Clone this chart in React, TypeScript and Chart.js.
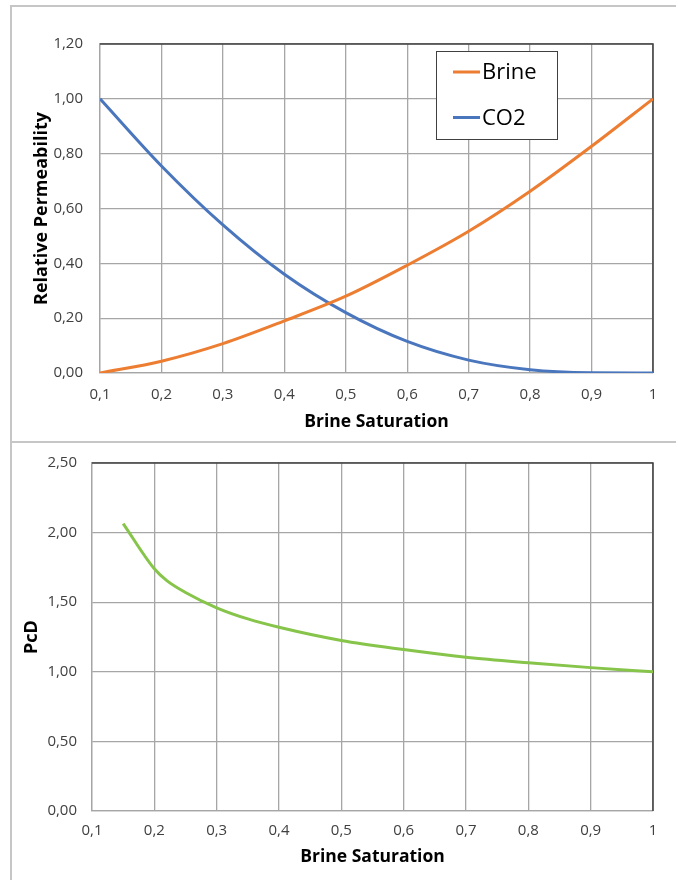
import React, { useEffect, useRef } from "react";
import { Chart, registerables } from "chart.js";

Chart.register(...registerables);

// ---- data ----
const krSaturation = [0.1, 0.2, 0.3, 0.4, 0.5, 0.6, 0.7, 0.8, 0.9, 1.0];
const brineKr = [0.0, 0.043, 0.107, 0.19, 0.28, 0.393, 0.517, 0.663, 0.827, 1.0];
const co2Kr = [1.0, 0.755, 0.54, 0.36, 0.22, 0.115, 0.047, 0.012, 0.001, 0.0];
const seriesLabels = ["Brine", "CO2"];

const pcSaturation = [0.15, 0.2, 0.22, 0.25, 0.3, 0.35, 0.4, 0.5, 0.6, 0.7, 0.8, 0.9, 1.0];
const pcD = [2.065, 1.74, 1.655, 1.57, 1.46, 1.38, 1.32, 1.225, 1.16, 1.105, 1.065, 1.03, 1.0];

const xTickStep = 0.1;
const krTickStep = 0.2;
const pcTickStep = 0.5;

const FONT = "'Open Sans', 'DejaVu Sans', sans-serif";
const GRID = "#a6a6a6";
const DARK = "#404040";
const ORANGE = "#ED7D31";
const BLUE = "#4A76BE";
const GREEN = "#86C44A";

const fmtY = (v: number) => Number(v).toFixed(2).replace(".", ",");
const fmtX = (v: number) => {
  const r = Math.round(Number(v) * 10) / 10;
  return String(r).replace(".", ",");
};

const plotBorder = {
  id: "plotBorder",
  beforeDatasetsDraw(chart: any) {
    const { ctx, chartArea } = chart;
    ctx.save();
    ctx.strokeStyle = DARK;
    ctx.lineWidth = 1.5;
    ctx.beginPath();
    ctx.moveTo(chartArea.left, chartArea.top);
    ctx.lineTo(chartArea.right, chartArea.top);
    ctx.lineTo(chartArea.right, chartArea.bottom);
    ctx.stroke();
    ctx.restore();
  },
};

const boxLegend = {
  id: "boxLegend",
  afterDraw(chart: any, _args: any, opts: any) {
    if (!opts || !opts.display) return;
    const { ctx } = chart;
    const { x, y, w, h, rowGap } = opts;
    ctx.save();
    ctx.fillStyle = "#ffffff";
    ctx.fillRect(x, y, w, h);
    ctx.strokeStyle = DARK;
    ctx.lineWidth = 1;
    ctx.strokeRect(x + 0.5, y + 0.5, w, h);
    ctx.font = `22px ${FONT}`;
    ctx.textBaseline = "middle";
    chart.data.datasets.forEach((ds: any, i: number) => {
      const cy = y + 21 + i * rowGap;
      ctx.strokeStyle = ds.borderColor;
      ctx.lineWidth = 3;
      ctx.beginPath();
      ctx.moveTo(x + 17, cy);
      ctx.lineTo(x + 44, cy);
      ctx.stroke();
      ctx.fillStyle = "#000";
      ctx.fillText(ds.label, x + 46, cy + 1);
    });
    ctx.restore();
  },
};

function xScale(tickPad: number, titlePad: number, height: number) {
  return {
    type: "linear",
    min: 0.1,
    max: 1,
    ticks: {
      stepSize: xTickStep,
      color: DARK,
      font: { size: 15, family: FONT },
      padding: tickPad,
      callback: (v: any) => fmtX(v),
      maxRotation: 0,
    },
    grid: { color: GRID, lineWidth: 1.3, drawTicks: false },
    border: { color: GRID, width: 1.3 },
    title: {
      display: true,
      text: "Brine Saturation",
      color: "#000",
      font: { size: 17.5, weight: "bold", family: FONT },
      padding: { top: 0, bottom: titlePad },
    },
    afterFit: (s: any) => {
      s.height = height;
      s.paddingLeft = 0;
      s.paddingRight = 0;
    },
  };
}

function yScale(max: number, step: number, title: string, tickPad: number, titlePad: number, width: number) {
  return {
    type: "linear",
    min: 0,
    max,
    ticks: {
      stepSize: step,
      color: DARK,
      font: { size: 15, family: FONT },
      padding: tickPad,
      callback: (v: any) => fmtY(v),
    },
    grid: { color: GRID, lineWidth: 1.3, drawTicks: false },
    border: { color: GRID, width: 1.3 },
    title: {
      display: true,
      text: title,
      color: "#000",
      font: { size: 18, weight: "bold", family: FONT },
      padding: { top: titlePad, bottom: 0 },
    },
    afterFit: (s: any) => {
      s.width = width;
      s.paddingTop = 0;
      s.paddingBottom = 0;
    },
  };
}

function KrChart() {
  const ref = useRef<HTMLCanvasElement>(null);
  useEffect(() => {
    if (!ref.current) return;
    const chart = new Chart(ref.current, {
      type: "line",
      data: {
        datasets: [
          {
            label: seriesLabels[0],
            data: krSaturation.map((x, i) => ({ x, y: brineKr[i] })),
            borderColor: ORANGE,
            borderWidth: 3,
            pointRadius: 0,
            cubicInterpolationMode: "monotone",
          },
          {
            label: seriesLabels[1],
            data: krSaturation.map((x, i) => ({ x, y: co2Kr[i] })),
            borderColor: BLUE,
            borderWidth: 3,
            pointRadius: 0,
            cubicInterpolationMode: "monotone",
          },
        ],
      },
      options: {
        responsive: false,
        animation: false,
        layout: { padding: { top: 44, right: 23, left: 0, bottom: 0 } },
        plugins: {
          legend: { display: false },
          tooltip: { enabled: false },
          boxLegend: { display: true, x: 436, y: 51, w: 121, h: 88, rowGap: 45.5 },
        } as any,
        scales: {
          x: xScale(13, 9.5, 69) as any,
          y: yScale(1.2, krTickStep, "Relative Permeability", 17, 31, 100) as any,
        },
      },
      plugins: [plotBorder, boxLegend],
    });
    return () => chart.destroy();
  }, []);
  return (
    <canvas
      ref={ref}
      width={676}
      height={442}
      style={{ position: "absolute", left: 0, top: 0, width: 676, height: 442 }}
    />
  );
}

function PcChart() {
  const ref = useRef<HTMLCanvasElement>(null);
  useEffect(() => {
    if (!ref.current) return;
    const chart = new Chart(ref.current, {
      type: "line",
      data: {
        datasets: [
          {
            label: "PcD",
            data: pcSaturation.map((x, i) => ({ x, y: pcD[i] })),
            borderColor: GREEN,
            borderWidth: 3,
            pointRadius: 0,
            cubicInterpolationMode: "monotone",
          },
        ],
      },
      options: {
        responsive: false,
        animation: false,
        layout: { padding: { top: 21, right: 23, left: 0, bottom: 0 } },
        plugins: {
          legend: { display: false },
          tooltip: { enabled: false },
          boxLegend: { display: false },
        } as any,
        scales: {
          x: xScale(10.5, 12.5, 69) as any,
          y: yScale(2.5, pcTickStep, "PcD", 15, 21, 92) as any,
        },
      },
      plugins: [plotBorder, boxLegend],
    });
    return () => chart.destroy();
  }, []);
  return (
    <canvas
      ref={ref}
      width={676}
      height={438}
      style={{ position: "absolute", left: 0, top: 442, width: 676, height: 438 }}
    />
  );
}

export default function App() {
  const frame = "#c6c6c6";
  return (
    <div
      style={{
        position: "absolute",
        left: 0,
        top: 0,
        width: 676,
        height: 880,
        background: "#fff",
        overflow: "hidden",
      }}
    >
      <div style={{ position: "absolute", left: 10, top: 5, width: 2, height: 875, background: frame }} />
      <div style={{ position: "absolute", left: 10, top: 5, width: 666, height: 2, background: frame }} />
      <div style={{ position: "absolute", left: 10, top: 441, width: 666, height: 2, background: frame }} />
      <KrChart />
      <PcChart />
    </div>
  );
}
